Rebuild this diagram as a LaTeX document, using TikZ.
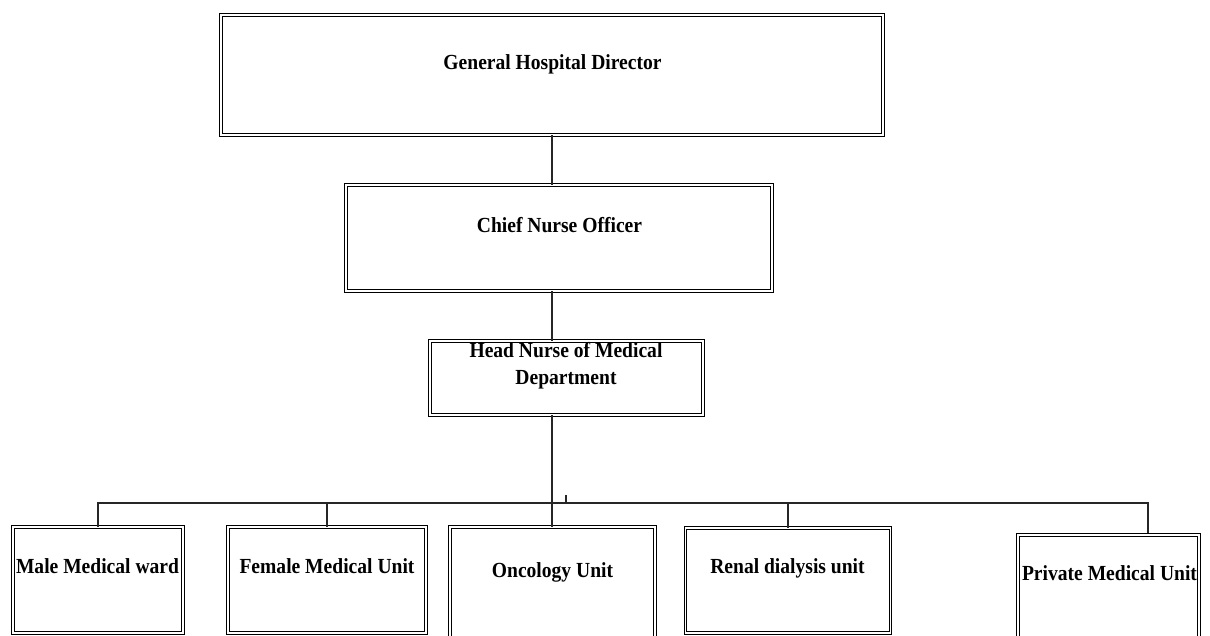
\documentclass[tikz,border=0pt]{standalone}
\usepackage{fontspec}
\newfontfamily\boxfont[FakeStretch=0.91]{Liberation Serif}
\begin{document}
\begin{tikzpicture}[x=1pt,y=-1pt,
  unitbox/.style={draw=black, double=white, double distance=1.6pt, line width=1.15pt,
    inner sep=0pt, outer sep=0pt, rectangle},
  lbl/.style={anchor=base, inner sep=0pt, font=\boxfont\bfseries\fontsize{21.5}{27}\selectfont},
  link/.style={draw=black!85, line width=1.2pt}]
\useasboundingbox (0,0) rectangle (1210,635);
\begin{scope}
\clip (0,0) rectangle (1210,635);
% boxes (node path at the centre of the double line)
\node[unitbox, minimum width=662pt, minimum height=120pt] (dir) at (552,75) {};
\node[unitbox, minimum width=426pt, minimum height=106pt] (cno) at (559,238) {};
\node[unitbox, minimum width=273pt, minimum height=74pt] (hn) at (566.5,378) {};
\node[unitbox, minimum width=170pt, minimum height=106pt] (male) at (98,580) {};
\node[unitbox, minimum width=198pt, minimum height=106pt] (female) at (327,580) {};
\node[unitbox, minimum width=205pt, minimum height=111pt] (onc) at (552.5,582.5) {};
\node[unitbox, minimum width=205pt, minimum height=105pt] (renal) at (788,580.5) {};
\node[unitbox, minimum width=181pt, minimum height=103pt] (priv) at (1108.5,586.5) {};
% texts
\node[lbl] (tdir) at (552.5,69.5) {General Hospital Director};
\node[lbl] (tcno) at (559.5,232) {Chief Nurse Officer};
\node[lbl] (thn1) at (566,357) {Head Nurse of Medical};
\node[lbl] (thn2) at (566,384) {Department};
\node[lbl] (tmale) at (97.5,573) {Male Medical ward};
\node[lbl] (tfemale) at (327,573) {Female Medical Unit};
\node[lbl] (tonc) at (552.5,577) {Oncology Unit};
\node[lbl] (trenal) at (787.5,573) {Renal dialysis unit};
\node[lbl] (tpriv) at (1109.5,580) {Private Medical Unit};
% connectors
\coordinate (bus) at (0,503);
\coordinate (pc) at (1148,533);
\coordinate (tk) at (566,495);
\draw[link] (dir.south) -- (dir.south |- cno.north);
\draw[link] (dir.south |- cno.south) -- (dir.south |- hn.north);
\draw[link] (dir.south |- hn.south) -- (dir.south |- onc.north);
\draw[link] (male.north) -- (male.north |- bus) -- (pc |- bus) -- (pc);
\draw[link] (female.north) -- (female.north |- bus);
\draw[link] (renal.north) -- (renal.north |- bus);
\draw[link] (tk) -- (tk |- bus);
\end{scope}
\end{tikzpicture}
\end{document}
